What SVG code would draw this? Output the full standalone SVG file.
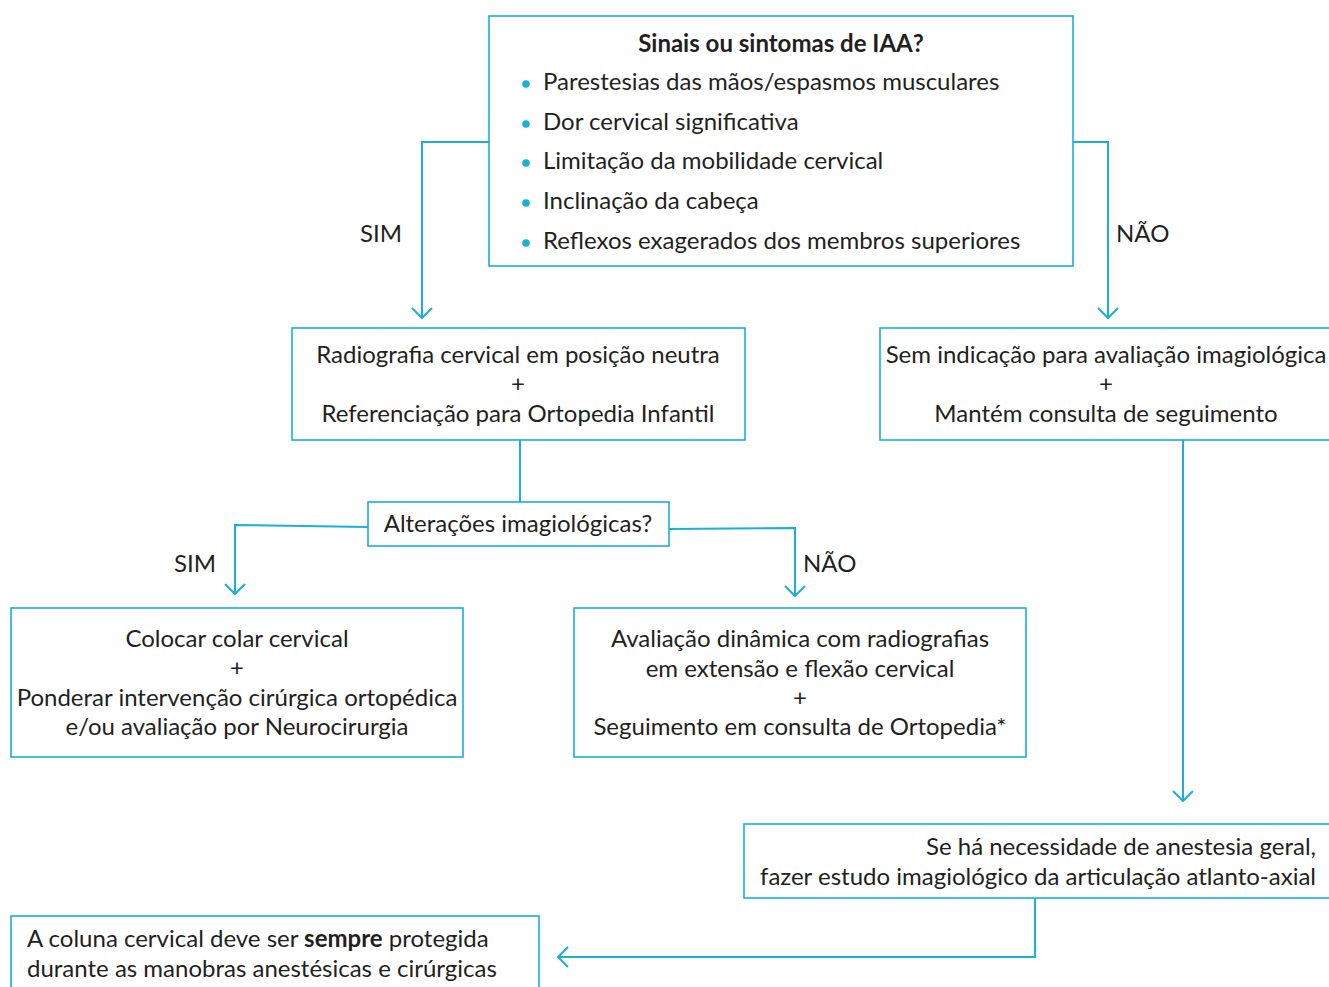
<svg xmlns="http://www.w3.org/2000/svg" width="1329" height="987" viewBox="0 0 1329 987">
<style>
.box{fill:#fff;stroke:#1ab0d8;stroke-width:1.6}
.ln{fill:none;stroke:#1ab0d8;stroke-width:2}
text{font-family:Lato,"Open Sans","Liberation Sans",sans-serif;font-size:24px;fill:#231f20}
.c{text-anchor:middle}
.r{text-anchor:end}
.b{font-weight:bold}
.dot{fill:#1ab0d8}
</style>
<defs>
<marker id="arr" markerUnits="userSpaceOnUse" markerWidth="24" markerHeight="24" viewBox="-12 -12 24 24" refX="0" refY="0" orient="auto">
<path d="M-10,-10 L0,0 L-10,10" fill="none" stroke="#1ab0d8" stroke-width="2"/>
</marker>
</defs>
<rect width="1329" height="987" fill="#fff"/>
<g id="connectors">
<polyline class="ln" points="489,142 422,142 422,318" marker-end="url(#arr)"/>
<polyline class="ln" points="1073,142 1108,142 1108,318" marker-end="url(#arr)"/>
<line class="ln" x1="520" y1="440" x2="520" y2="502"/>
<polyline class="ln" points="368,527 235,525 235,594" marker-end="url(#arr)"/>
<polyline class="ln" points="669,529 795,528 795,596" marker-end="url(#arr)"/>
<line class="ln" x1="1183" y1="440" x2="1183" y2="801" marker-end="url(#arr)"/>
<polyline class="ln" points="1035,898 1035,957 558,957" marker-end="url(#arr)"/>
<text x="381" y="242" class="c">SIM</text>
<text x="1116" y="242">NÃO</text>
<text x="195" y="572" class="c">SIM</text>
<text x="803" y="572">NÃO</text>
</g>
<g id="n1">
<rect class="box" x="489" y="16" width="584" height="250"/>
<text x="781" y="52" class="c b">Sinais ou sintomas de IAA?</text>
<circle class="dot" cx="526" cy="84" r="3.8"/>
<text x="543" y="90">Parestesias das mãos/espasmos musculares</text>
<circle class="dot" cx="526" cy="124" r="3.8"/>
<text x="543" y="130">Dor cervical significativa</text>
<circle class="dot" cx="526" cy="163" r="3.8"/>
<text x="543" y="169">Limitação da mobilidade cervical</text>
<circle class="dot" cx="526" cy="203" r="3.8"/>
<text x="543" y="209">Inclinação da cabeça</text>
<circle class="dot" cx="526" cy="243" r="3.8"/>
<text x="543" y="249">Reflexos exagerados dos membros superiores</text>
</g>
<g id="n2">
<rect class="box" x="292" y="328" width="453" height="112"/>
<text x="518" y="363" class="c">Radiografia cervical em posição neutra</text>
<text x="518" y="392" class="c">+</text>
<text x="518" y="422" class="c">Referenciação para Ortopedia Infantil</text>
</g>
<g id="n3">
<rect class="box" x="880" y="328" width="452" height="112"/>
<text x="1106" y="363" class="c">Sem indicação para avaliação imagiológica</text>
<text x="1106" y="392" class="c">+</text>
<text x="1106" y="422" class="c">Mantém consulta de seguimento</text>
</g>
<g id="n4">
<rect class="box" x="368" y="502" width="301" height="44"/>
<text x="518" y="532" class="c">Alterações imagiológicas?</text>
</g>
<g id="n5">
<rect class="box" x="11" y="608" width="452" height="149"/>
<text x="237" y="647" class="c">Colocar colar cervical</text>
<text x="237" y="676" class="c">+</text>
<text x="237" y="706" class="c">Ponderar intervenção cirúrgica ortopédica</text>
<text x="237" y="735" class="c">e/ou avaliação por Neurocirurgia</text>
</g>
<g id="n6">
<rect class="box" x="574" y="608" width="452" height="149"/>
<text x="800" y="647" class="c">Avaliação dinâmica com radiografias</text>
<text x="800" y="677" class="c">em extensão e flexão cervical</text>
<text x="800" y="706" class="c">+</text>
<text x="800" y="735" class="c">Seguimento em consulta de Ortopedia*</text>
</g>
<g id="n7">
<rect class="box" x="744" y="824" width="588" height="74"/>
<text x="1316" y="855" class="r">Se há necessidade de anestesia geral,</text>
<text x="1316" y="885" class="r">fazer estudo imagiológico da articulação atlanto-axial</text>
</g>
<g id="n8">
<rect class="box" x="11" y="916" width="528" height="80"/>
<text x="27" y="947">A coluna cervical deve ser <tspan class="b">sempre</tspan> protegida</text>
<text x="27" y="977">durante as manobras anestésicas e cirúrgicas</text>
</g>
</svg>
